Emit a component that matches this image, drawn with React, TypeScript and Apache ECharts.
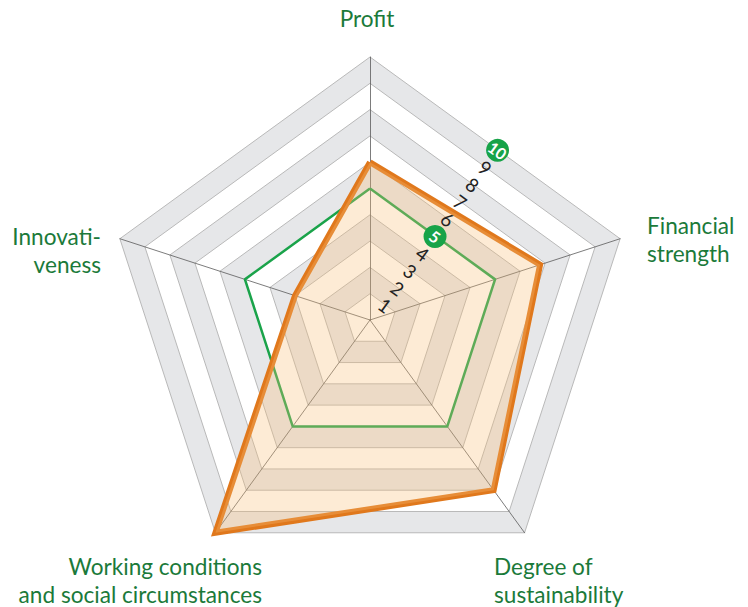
import React, { useEffect, useRef } from "react";
import * as echarts from "echarts";

// ---- data ----
const indicatorNames = [
  "Profit",
  "Innovativeness",
  "Working conditions and social circumstances",
  "Degree of sustainability",
  "Financial strength",
];
const indicatorMax = [10, 10, 10, 10, 10];
const benchmarkScores = [5, 5, 5, 5, 5];
const companyScores = [6, 3, 10, 8, 6.8];
const tickLabels = ["1", "2", "3", "4", "5", "6", "7", "8", "9", "10"];
const highlightedTicks = ["5", "10"];

// ---- layout ----
const CX = 370;
const CY = 320;
const R = 263;
const GREEN_TEXT = "#1b7a3a";
const FONT = "Lato, 'Open Sans', sans-serif";

export default function App() {
  const ref = useRef<HTMLDivElement>(null);

  useEffect(() => {
    if (!ref.current) return;
    const chart = echarts.init(ref.current, undefined, { renderer: "svg" });

    const cos36 = Math.cos((36 * Math.PI) / 180);
    const ang = (54 * Math.PI) / 180;
    const rot = (-36 * Math.PI) / 180;
    const tickGraphics: any[] = [];
    tickLabels.forEach((t) => {
      const v = Number(t);
      const d = (v / 10) * R * cos36;
      const x = CX + d * Math.cos(ang) + 2.5;
      const y = CY - d * Math.sin(ang) + 2.5;
      const hi = highlightedTicks.includes(t);
      if (hi) {
        tickGraphics.push({
          type: "circle",
          x,
          y,
          z: 100,
          shape: { cx: 0, cy: 0, r: 11.5 },
          style: { fill: "#17a348" },
        });
      }
      tickGraphics.push({
        type: "text",
        x,
        y,
        z: 101,
        rotation: rot,
        style: {
          text: t,
          fill: hi ? "#ffffff" : "#222222",
          font: `${hi ? "bold " : ""}${hi ? 16 : 19}px ${FONT}`,
          align: "center",
          verticalAlign: "middle",
        },
      });
    });

    const nameLines = (n: string) => {
      if (n === "Innovativeness") return "Innovati-\nveness";
      if (n === "Financial strength") return "Financial\nstrength";
      if (n === "Degree of sustainability") return "Degree of\nsustainability";
      if (n.startsWith("Working")) return "Working conditions\nand social circumstances";
      return n;
    };
    const namePos: Record<string, { x: number; y: number; align: string }> = {
      Profit: { x: 367, y: 18, align: "center" },
      Innovativeness: { x: 101, y: 250, align: "right" },
      "Working conditions and social circumstances": { x: 262, y: 580, align: "right" },
      "Degree of sustainability": { x: 494, y: 580, align: "left" },
      "Financial strength": { x: 647, y: 239, align: "left" },
    };
    const nameGraphics = indicatorNames.map((n) => ({
      type: "text",
      x: namePos[n].x,
      y: namePos[n].y,
      z: 100,
      style: {
        text: nameLines(n),
        fill: GREEN_TEXT,
        font: `22.6px ${FONT}`,
        align: namePos[n].align,
        verticalAlign: "middle",
        lineHeight: 28,
      },
    }));

    chart.setOption({
      animation: false,
      radar: {
        center: [CX, CY],
        radius: R,
        startAngle: 90,
        splitNumber: 10,
        shape: "polygon",
        indicator: indicatorNames.map((n, i) => ({ name: n, min: 0, max: indicatorMax[i] })),
        axisName: { show: false },
        splitArea: {
          show: true,
          areaStyle: { color: ["#ffffff", "#e6e7e9"] },
        },
        splitLine: { lineStyle: { color: "#b9b9b9", width: 1 } },
        axisLine: { lineStyle: { color: "#5a5a5a", width: 0.8 } },
        axisTick: { show: false },
        axisLabel: { show: false },
      },
      series: [
        {
          type: "radar",
          symbol: "none",
          data: [
            {
              name: "Benchmark",
              value: benchmarkScores,
              lineStyle: { color: "#1aa34a", width: 2.5 },
              areaStyle: { opacity: 0 },
            },
            {
              name: "Company",
              value: companyScores,
              lineStyle: { color: "#e0781c", width: 6, join: "miter" },
              areaStyle: { color: "rgba(250,192,120,0.44)" },
            },
          ],
        },
      ],
      graphic: { elements: [...nameGraphics, ...tickGraphics] },
    });

    return () => chart.dispose();
  }, []);

  return (
    <div
      ref={ref}
      style={{ position: "fixed", left: 0, top: 0, width: 748, height: 607, background: "#ffffff" }}
    />
  );
}
